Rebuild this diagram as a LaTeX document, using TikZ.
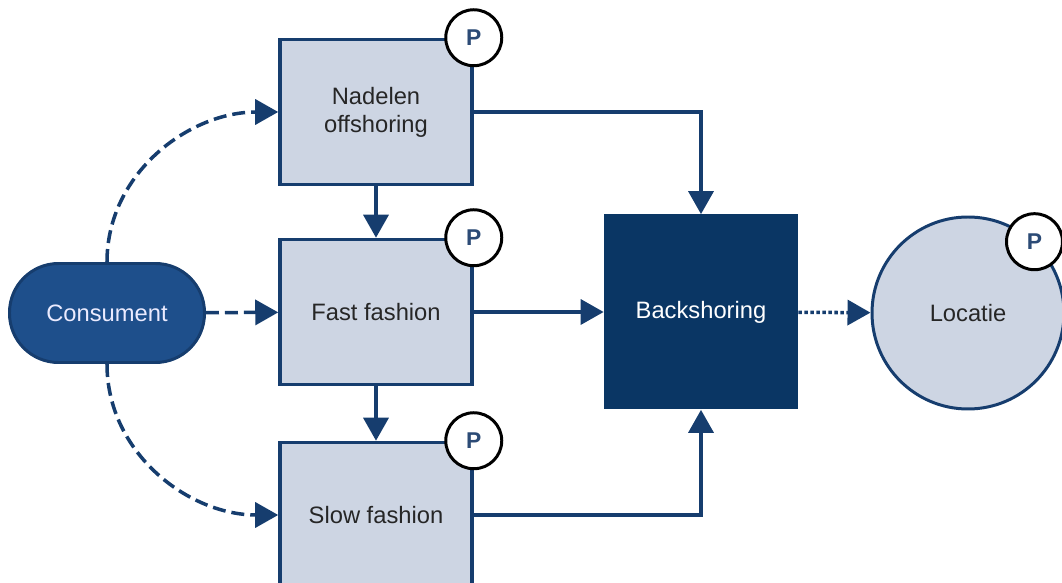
\documentclass[tikz,border=0pt]{standalone}
\usepackage{fontspec}
\setmainfont{Liberation Sans}
\usetikzlibrary{arrows.meta, positioning, shapes}

\definecolor{lineblue}{HTML}{163D6E}
\definecolor{consblue}{HTML}{1E4F8B}
\definecolor{navy}{HTML}{0A3664}
\definecolor{boxfill}{HTML}{CDD5E3}
\definecolor{badgetext}{HTML}{2C4B76}

\begin{document}
\begin{tikzpicture}[
    font=\fontsize{13.5}{16}\selectfont,
    conn/.style={draw=lineblue, line width=2pt, -{Triangle[length=0.46cm, width=0.5cm]}},
    box/.style={draw=lineblue, fill=boxfill, line width=2pt, minimum width=3.84cm, minimum height=2.9cm, align=center, text=black!85},
    badge/.style={circle, draw=black, fill=white, line width=1.7pt, minimum size=1.12cm, inner sep=0pt, font=\fontsize{13}{15}\selectfont\bfseries, text=badgetext}
]
    \useasboundingbox (0,0) rectangle (21.24,11.66);

    % Consumer node
    \node[draw=lineblue, fill=consblue, line width=1.7pt, rounded corners=0.98cm, minimum width=3.9cm, minimum height=1.98cm, text=white!92!blue] (cons) at (2.14, 5.40) {Consument};

    % Factor boxes
    \node[box] (nad) at (7.52, 9.42) {Nadelen\\offshoring};
    \node[box] (fast) at (7.52, 5.42) {Fast fashion};
    \node[box] (slow) at (7.52, 1.36) {Slow fashion};

    % Backshoring and location
    \node[fill=navy, minimum width=3.88cm, minimum height=3.9cm, text=white] (back) at (14.02, 5.42) {Backshoring};
    \node[circle, draw=lineblue, fill=boxfill, line width=1.7pt, minimum size=3.84cm, text=black!85] (loc) at (19.36, 5.40) {Locatie};

    % Connectors
    \draw[conn] (nad) -- (fast);
    \draw[conn] (fast) -- (slow);
    \draw[conn] (fast) -- (back);
    \draw[conn] (nad.east) -| (back.north);
    \draw[conn] (slow.east) -| (back.south);
    \draw[conn, dash pattern=on 0.26cm off 0.12cm] (cons.north) to[out=90, in=180] (nad.west);
    \draw[conn, dash pattern=on 0.26cm off 0.12cm] (cons) -- (fast);
    \draw[conn, dash pattern=on 0.26cm off 0.12cm] (cons.south) to[out=-90, in=180] (slow.west);
    \draw[conn, dash pattern=on 0.07cm off 0.05cm] (back) -- (loc);

    % P badges
    \foreach \b in {nad, fast, slow} {
        \node[badge] (p-\b) at (\b.north east) {P};
    }
    \node[badge] (p-loc) at (loc.47) {P};
\end{tikzpicture}
\end{document}
